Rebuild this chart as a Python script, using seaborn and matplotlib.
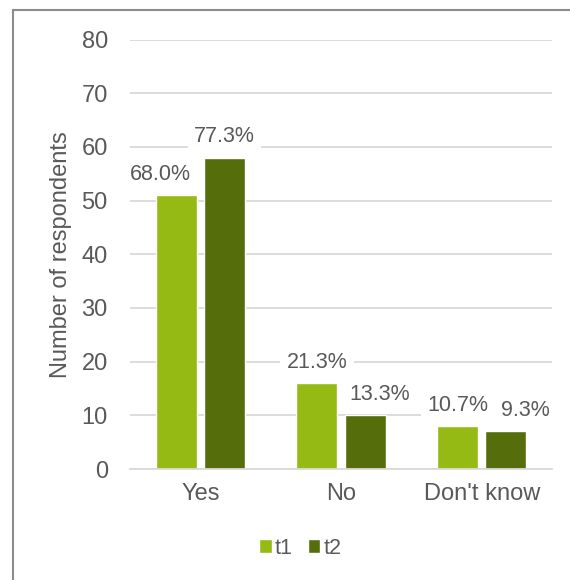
import numpy as np
import pandas as pd
import matplotlib.pyplot as plt
import seaborn as sns
from matplotlib.patches import Rectangle

sns.set_theme(style="white")
plt.rcParams["font.family"] = ["Liberation Sans", "DejaVu Sans"]

categorias = ["Yes", "No", "Don't know"]
momentos = ["t1", "t2"]
valores_t1 = [51, 16, 8]
valores_t2 = [58, 10, 7]
rotulos_t1 = ["68.0%", "21.3%", "10.7%"]
rotulos_t2 = ["77.3%", "13.3%", "9.3%"]

cores = {"t1": "#96BA14", "t2": "#566D0B"}
cinza_texto = "#595959"

df = pd.DataFrame({
    "categoria": categorias * 2,
    "momento": [momentos[0]] * 3 + [momentos[1]] * 3,
    "valor": valores_t1 + valores_t2,
    "rotulo": rotulos_t1 + rotulos_t2,
})

fig = plt.figure(figsize=(5.7, 5.8), dpi=100)
ax = fig.add_axes([130 / 570, 1 - 469 / 580, 422 / 570, 429.5 / 580])

sns.barplot(data=df, x="categoria", y="valor", hue="momento", palette=cores,
            width=0.686, gap=0.146, ax=ax, legend=True, saturation=1)

# deslocamentos horizontais (pontos) para evitar sobreposição dos rótulos, como no Excel
deslocamentos = [[-11.5, 0, 0], [0, 10.8, 14.4]]
for container, rotulos, desl in zip(ax.containers, [rotulos_t1, rotulos_t2], deslocamentos):
    textos = ax.bar_label(container, labels=rotulos, padding=7.5, fontsize=15.5,
                          color=cinza_texto)
    for texto, dx in zip(textos, desl):
        texto.xyann = (dx, 7.5)
        texto.set_bbox(dict(boxstyle="square,pad=0.3", facecolor="white", edgecolor="none"))

ax.set_ylim(0, 80)
ax.set_xlim(-0.5, 2.5)
ax.set_yticks(range(0, 81, 10))
ax.yaxis.grid(True, color="#D9D9D9", linewidth=1.3)
ax.set_axisbelow(True)
for lado in ["top", "right", "left"]:
    ax.spines[lado].set_visible(False)
ax.spines["bottom"].set_color("#D9D9D9")
ax.spines["bottom"].set_linewidth(1.3)
ax.tick_params(axis="both", length=0, labelsize=17, labelcolor=cinza_texto)
ax.tick_params(axis="y", pad=16)
ax.tick_params(axis="x", pad=10)
ax.set_xlabel("")
ax.set_ylabel("Number of respondents", fontsize=17, color=cinza_texto, labelpad=7)

handles, labels = ax.get_legend_handles_labels()
ax.get_legend().remove()
fig.legend(handles, labels, loc="center", bbox_to_anchor=(300.5 / 570, 1 - 548 / 580),
           ncol=2, frameon=False, fontsize=15.5, labelcolor=cinza_texto,
           handlelength=0.58, handleheight=0.58, handletextpad=0.15, columnspacing=0.7,
           borderpad=0)

fig.patches.append(Rectangle((13 / 570, -0.1), 1.2, 1 - 10 / 580 + 0.1,
                             transform=fig.transFigure, fill=False,
                             edgecolor="#8C8C8C", linewidth=1.5))

fig.savefig("out.png", dpi=100)
